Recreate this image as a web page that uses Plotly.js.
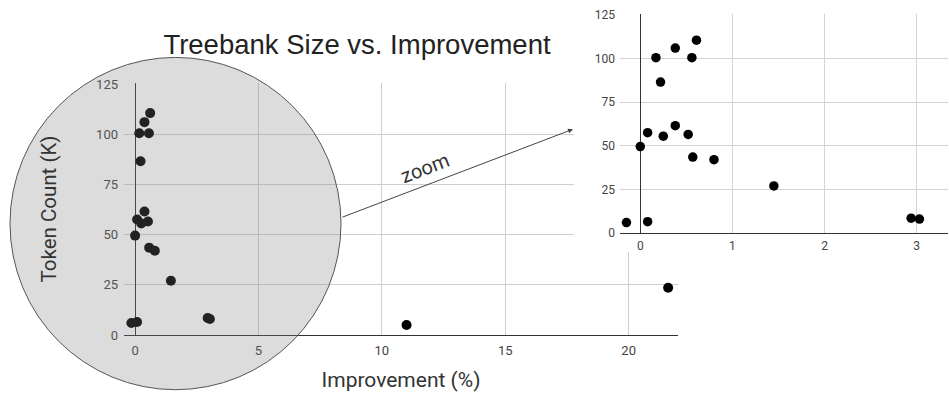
<!DOCTYPE html>
<html><head><meta charset="utf-8">
<script src="https://cdn.plot.ly/plotly-3.0.1.min.js"></script>
<style>
html,body{margin:0;padding:0;background:#fff;}
#wrap{position:relative;width:949px;height:418px;overflow:hidden;}
#main{position:absolute;left:0;top:0;width:949px;height:418px;}
#inset{position:absolute;left:574px;top:0;width:375px;height:252px;}
</style></head><body>
<div id="wrap"><div id="main"></div><div id="inset"></div></div>
<script>
// Data
const improvement = [-0.15, 0.08, 0.0, 0.08, 0.25, 0.38, 0.52, 0.57, 0.80, 1.45, 2.94, 3.03, 0.17, 0.22, 0.38, 0.56, 0.61, 11.0, 21.6];
const tokenCount  = [6, 6.5, 49.5, 57.5, 55.5, 61.5, 56.5, 43.5, 42, 27, 8.5, 8, 100.5, 86.5, 106, 100.5, 110.5, 5, 23.5];
const mainXTicks  = [0, 5, 10, 15, 20];
const yTicks      = [0, 25, 50, 75, 100, 125];
const insetXTicks = [0, 1, 2, 3];

const tickFont = {family: 'Roboto, sans-serif', size: 13, color: '#444'};

const mainTrace = {
  type: 'scatter', mode: 'markers', x: improvement, y: tokenCount,
  marker: {color: '#000', size: 10}, hoverinfo: 'skip'
};

const mainLayout = {
  width: 949, height: 418,
  margin: {l: 124, r: 271, t: 83, b: 83},
  paper_bgcolor: '#fff', plot_bgcolor: '#fff',
  showlegend: false,
  title: {text: 'Treebank Size vs. Improvement',
          font: {family: 'Liberation Sans, Arial, sans-serif', size: 27.5, color: '#222'},
          xref: 'container', x: 357/949, xanchor: 'center',
          yref: 'container', y: 1 - 44/418, yanchor: 'middle'},
  xaxis: {range: [-0.45, 22], tickvals: mainXTicks, ticktext: mainXTicks.map(String),
          showgrid: true, gridcolor: '#cfcfcf', gridwidth: 1,
          zeroline: true, zerolinecolor: '#333', zerolinewidth: 1,
          showline: true, linecolor: '#333', linewidth: 1, ticks: '',
          tickfont: tickFont, ticklabelstandoff: 3,
          title: {text: 'Improvement (%)', font: {family: 'Roboto, sans-serif', size: 21, color: '#333'}, standoff: 15}},
  yaxis: {range: [0, 125.5], tickvals: yTicks, ticktext: yTicks.map(String),
          showgrid: true, gridcolor: '#cfcfcf', gridwidth: 1,
          zeroline: false, showline: false, ticks: '',
          tickfont: tickFont, ticklabelstandoff: 5,
          title: {text: 'Token Count (K)', font: {family: 'Roboto, sans-serif', size: 20.5, color: '#333'}, standoff: 33}},
  shapes: [{type: 'circle', xref: 'paper', yref: 'paper', layer: 'above',
            x0: (10-124)/554, x1: (341-124)/554,
            y0: (335-389.5)/251, y1: (335-58.5)/251,
            fillcolor: 'rgba(126,126,126,0.27)', line: {color: '#555', width: 1}}],
  annotations: [
    {xref: 'paper', yref: 'paper', x: (573-124)/554, y: (335-130)/251,
     ax: -232, ay: 88.5, text: '', showarrow: true,
     arrowhead: 2, arrowsize: 1, arrowwidth: 1, arrowcolor: '#444'},
    {xref: 'paper', yref: 'paper', x: (425-124)/554, y: (335-169)/251,
     text: 'zoom', showarrow: false, textangle: -21,
     font: {family: 'Roboto, sans-serif', size: 20, color: '#333'}}
  ]
};

const insetTrace = {
  type: 'scatter', mode: 'markers', x: improvement, y: tokenCount,
  marker: {color: '#000', size: 9.5}, hoverinfo: 'skip', cliponaxis: true
};

const insetLayout = {
  width: 375, height: 252,
  margin: {l: 46, r: 1, t: 14, b: 19},
  paper_bgcolor: '#fff', plot_bgcolor: '#fff',
  showlegend: false,
  xaxis: {range: [-0.22, 3.34], tickvals: insetXTicks, ticktext: insetXTicks.map(String),
          showgrid: true, gridcolor: '#d3d3d3',
          zeroline: true, zerolinecolor: '#333', zerolinewidth: 1,
          showline: true, linecolor: '#333', ticks: '',
          tickfont: {family: 'Roboto, sans-serif', size: 12, color: '#444'}, ticklabelstandoff: 2},
  yaxis: {range: [0, 125.5], tickvals: yTicks, ticktext: yTicks.map(String),
          showgrid: true, gridcolor: '#d3d3d3',
          zeroline: false, showline: false, ticks: '',
          tickfont: {family: 'Roboto, sans-serif', size: 12, color: '#444'}, ticklabelstandoff: 4}
};

const cfg = {staticPlot: true, displayModeBar: false};
Plotly.newPlot('main', [mainTrace], mainLayout, cfg);
Plotly.newPlot('inset', [insetTrace], insetLayout, cfg);
</script>
</body></html>
